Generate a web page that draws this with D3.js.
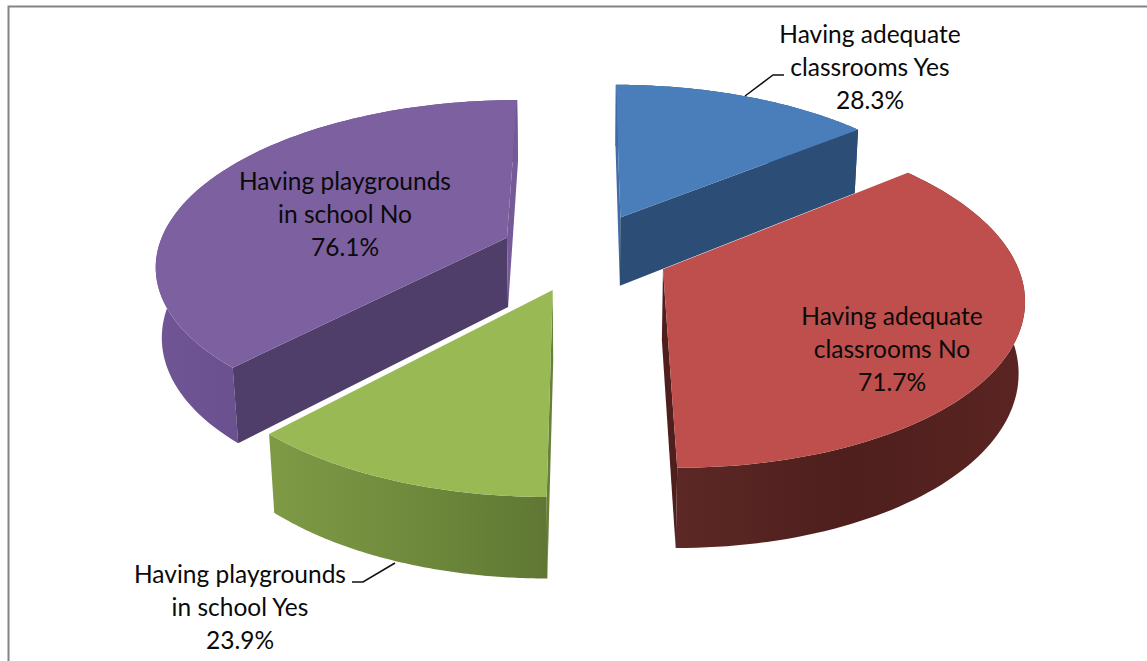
<!DOCTYPE html>
<html>
<head>
<meta charset="utf-8">
<script src="https://cdn.jsdelivr.net/npm/d3@7"></script>
<style>
  html, body { margin: 0; padding: 0; background: #fff; overflow: hidden; }
  svg { display: block; }
  text { font-family: Lato, "Open Sans", sans-serif; fill: #0a0a0a; }
</style>
</head>
<body>
<svg id="chart" width="1147" height="661"></svg>
<script>
// Survey results: school facilities, two yes/no questions on a shared pie
const categories = [
  ["Having adequate", "classrooms Yes"],
  ["Having adequate", "classrooms No"],
  ["Having playgrounds", "in school Yes"],
  ["Having playgrounds", "in school No"]
];
const values = [28.3, 71.7, 23.9, 76.1];
const topColors = ["#4a7ebb", "#be4f4c", "#98b954", "#7d60a0"];
const startWallColors = ["#3f6ca3", "#4f1f1d", "#66803a", "#4f3d6a"];
const endWallColors = ["#2c4d75", "#4f1f1d", "#7d9a48", "#745a97"];
const rimStops = [
  ["#2c4d75", "#2c4d75"],
  ["#5c2825", "#4e1f1d", "#5a2422"],
  ["#7f9a45", "#6f8a3c", "#5f7733"],
  ["#6f5594", "#644a88", "#5a4380"]
];

// Camera model for the tilted, exploded pie
const W = 1147, H = 661;
const cx = 585, cy = 252;
const radius = 350, explode = 85, depth = 71;
const tilt = 0.4645, persp = 0.152, persZ = 0.07;

function project(X, Y, Z) {
  const s = 1 / (1 + persp * Y / radius - persZ * Z / radius);
  return [cx + X * s, cy - (tilt * Y + Z) * s];
}

const svg = d3.select("#chart");
const defs = svg.append("defs");
const line = d3.line();
const arcs = d3.pie().sort(null).value(d => d)(values);

// Frame: only the top and left edges fall inside the canvas
svg.append("path")
  .attr("d", line([[8.5, H], [8.5, 6.5], [W, 6.5]]))
  .attr("fill", "none").attr("stroke", "#848484").attr("stroke-width", 2);

const poly = pts => line(pts) + "Z";

function sliceGeometry(a) {
  const mid = (a.startAngle + a.endAngle) / 2;
  const ox = explode * Math.sin(mid), oy = explode * Math.cos(mid);
  const n = 90;
  const angles = d3.range(n + 1).map(i => a.startAngle + (a.endAngle - a.startAngle) * i / n);
  const rim = z => angles.map(t => project(ox + radius * Math.sin(t), oy + radius * Math.cos(t), z));
  return { apexTop: project(ox, oy, 0), apexBot: project(ox, oy, -depth), rimTop: rim(0), rimBot: rim(-depth) };
}

// Back slices first, so the near slices overlap them
const drawOrder = [0, 3, 1, 2];
drawOrder.forEach(i => {
  const g = sliceGeometry(arcs[i]);
  const group = svg.append("g");
  const last = g.rimTop.length - 1;

  const xs = g.rimBot.map(p => p[0]);
  const grad = defs.append("linearGradient")
    .attr("id", "rim" + i).attr("gradientUnits", "userSpaceOnUse")
    .attr("x1", d3.min(xs)).attr("x2", d3.max(xs)).attr("y1", 0).attr("y2", 0);
  rimStops[i].forEach((c, k, arr) => grad.append("stop")
    .attr("offset", k / (arr.length - 1)).attr("stop-color", c));

  // Outer curved wall
  group.append("path")
    .attr("d", poly(g.rimTop.concat(g.rimBot.slice().reverse())))
    .attr("fill", `url(#rim${i})`);

  // Radial walls, skipping whichever one faces away from the camera
  const startWall = [g.apexTop, g.rimTop[0], g.rimBot[0], g.apexBot];
  const endWall = [g.apexTop, g.rimTop[last], g.rimBot[last], g.apexBot];
  if (d3.polygonArea(startWall) > 0) {
    group.append("path").attr("d", poly(startWall)).attr("fill", startWallColors[i]);
  }
  if (d3.polygonArea(endWall) < 0) {
    group.append("path").attr("d", poly(endWall)).attr("fill", endWallColors[i]);
  }

  // Top face
  group.append("path")
    .attr("d", poly([g.apexTop].concat(g.rimTop)))
    .attr("fill", topColors[i]);
});

// Leader lines for the two labels placed outside their slices
const leaders = [
  [[745, 96], [773, 75], [784, 75]],
  [[395, 563], [363, 582], [352, 582]]
];
leaders.forEach(pts => svg.append("path")
  .attr("d", line(pts)).attr("fill", "none")
  .attr("stroke", "#111").attr("stroke-width", 1.5));

// Data labels: two lines of category text and the percentage
const fontSize = 24.5, lineGap = 33;
const labelAnchors = [[870, 43], [892, 325], [240, 583], [345, 190]];
const fmt = d3.format(".1f");
categories.forEach((lines, i) => {
  const text = svg.append("text")
    .attr("text-anchor", "middle")
    .attr("font-size", fontSize);
  lines.concat(fmt(values[i]) + "%").forEach((s, k) => {
    text.append("tspan")
      .attr("x", labelAnchors[i][0])
      .attr("y", labelAnchors[i][1] + k * lineGap)
      .text(s);
  });
});
</script>
</body>
</html>
